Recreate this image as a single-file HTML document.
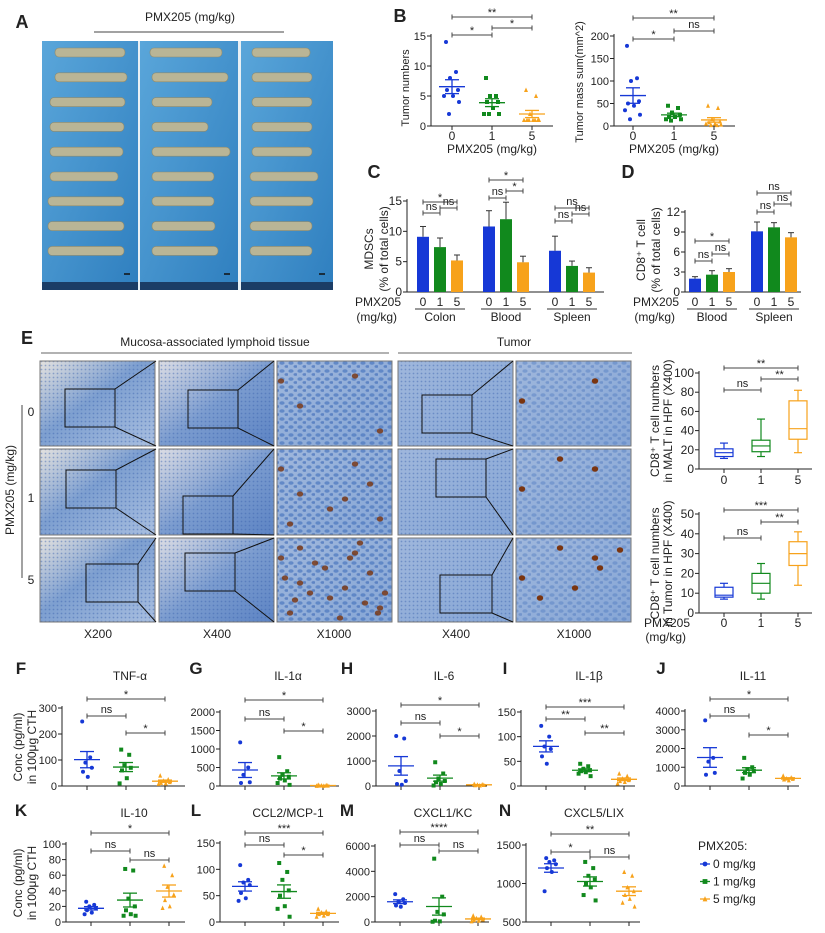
<!DOCTYPE html>
<html><head><meta charset="utf-8">
<style>
html,body{margin:0;padding:0;background:#fff;}
svg{display:block;font-family:"Liberation Sans",sans-serif;}
text{fill:#222;}
</style></head>
<body>
<svg id="fig" width="825" height="933" viewBox="0 0 825 933" xmlns="http://www.w3.org/2000/svg">
<defs>
<linearGradient id="bluebg" x1="0" y1="0" x2="1" y2="1"><stop offset="0" stop-color="#5aa6da"/><stop offset="1" stop-color="#2f7fbf"/></linearGradient>
<linearGradient id="ihc1" x1="0" y1="0" x2="1" y2="1"><stop offset="0" stop-color="#e4e2df"/><stop offset="0.45" stop-color="#7d9fd0"/><stop offset="1" stop-color="#a9bfe0"/></linearGradient>
<linearGradient id="ihc2" x1="0" y1="0" x2="1" y2="1"><stop offset="0" stop-color="#dcdde4"/><stop offset="0.5" stop-color="#7b9ccf"/><stop offset="1" stop-color="#5d84c4"/></linearGradient>
<linearGradient id="ihc3" x1="0" y1="0" x2="1" y2="1"><stop offset="0" stop-color="#9fb7dc"/><stop offset="1" stop-color="#86a6d6"/></linearGradient>
<pattern id="cells" width="9" height="8" patternUnits="userSpaceOnUse"><ellipse cx="3" cy="3" rx="2.6" ry="1.8" fill="#4c78c0" opacity="0.7"/><ellipse cx="7.5" cy="6.5" rx="2" ry="1.4" fill="#3a68b5" opacity="0.6"/></pattern>
<pattern id="cellsfine" width="4" height="4" patternUnits="userSpaceOnUse"><circle cx="1.5" cy="1.5" r="0.9" fill="#3a62ad" opacity="0.45"/></pattern>
</defs>
<g id="root"></g>
</svg>
<script>
// ---------- DATA ----------
var groupsLabels = ['0','1','5'];
var bNum0=[14,9,8,6,6,5,5,4,2], bNum1=[8,5,5,4,4,3,2,2,2], bNum5=[6,5,2,1,1,1,1,1,1,1];
var bMass0=[178,106,100,55,50,45,35,25,15], bMass1=[45,40,30,25,20,20,15,15,12], bMass5=[45,40,15,10,8,5,5,3,2,2];
var cMeans=[[9.1,7.4,5.2],[10.8,12.0,4.9],[6.8,4.3,3.2]];
var cErrs=[[1.7,1.5,0.9],[2.6,2.8,1.0],[2.4,0.8,0.8]];
var cGroups=['Colon','Blood','Spleen'];
var dMeans=[[2.0,2.6,3.0],[9.1,9.7,8.2]];
var dErrs=[[0.3,0.6,0.5],[1.4,0.7,0.7]];
var dGroups=['Blood','Spleen'];
var boxMalt=[[11,13,17,21,27],[13,18,24,30,52],[17,31,42,71,82]];
var boxTumor=[[7,8,9,13,15],[7,10,15,20,25],[14,24,30,36,41]];
var tnf0=[248,110,90,70,55,35], tnf1=[140,120,80,70,60,30,10], tnf5=[40,25,20,15,12,10,8];
var il1a0=[1180,500,300,100,80], il1a1=[780,400,300,250,200,150,80,30], il1a5=[30,20,15,10,10,5,5];
var il60=[2000,1900,600,200,80,50], il61=[950,500,300,200,150,80,20], il65=[80,60,50,40,30,20];
var il1b0=[122,100,80,75,60,45], il1b1=[45,40,35,32,30,28,25,20], il1b5=[25,20,15,12,10,8,5];
var il110=[3500,1500,1300,700,600], il111=[1500,1000,900,800,700,600,400], il115=[550,450,400,380,350,300];
var il100=[26,22,20,18,15,12,10], il101=[68,66,30,20,15,10,8,8], il105=[72,60,45,35,28,20,18];
var ccl20=[108,80,75,70,55,45,40], ccl21=[112,95,80,60,50,30,25,10], ccl25=[25,20,18,15,15,12,10];
var cxcl10=[2200,1800,1600,1500,1300,1200], cxcl11=[5000,2000,800,600,100,50,20], cxcl15=[500,400,300,200,150,100,50];
var cxcl50=[1330,1300,1280,1250,1200,1150,900], cxcl51=[1280,1200,1100,1050,1000,950,850,780], cxcl55=[1150,1100,950,900,850,800,750,700];

var COL=['#1638d6','#11891d','#f7a21b'];
var NS='http://www.w3.org/2000/svg';
var root=document.getElementById('root');
function mk(tag,attrs,parent,txt){var e=document.createElementNS(NS,tag);for(var k in attrs)e.setAttribute(k,attrs[k]);if(txt!==undefined)e.textContent=txt;(parent||root).appendChild(e);return e;}
function grp(name,parent){var g=mk('g',{},parent);return g;}
function txt(p,x,y,s,size,anchor,extra){var t=mk('text',{x:x,y:y,'font-size':size||11,'text-anchor':anchor||'middle'},p,s);if(extra)for(var k in extra)t.setAttribute(k,extra[k]);return t;}
function line(p,x1,y1,x2,y2,c,w){return mk('line',{x1:x1,y1:y1,x2:x2,y2:y2,stroke:c||'#222','stroke-width':w||1},p);}
function mean(a){var s=0;a.forEach(function(v){s+=v});return s/a.length;}
function sem(a){var m=mean(a),s=0;a.forEach(function(v){s+=(v-m)*(v-m)});return Math.sqrt(s/(a.length-1))/Math.sqrt(a.length);}
function marker(p,i,x,y,r){
  if(i===0) return mk('circle',{cx:x,cy:y,r:r,fill:COL[0]},p);
  if(i===1) return mk('rect',{x:x-r,y:y-r,width:2*r,height:2*r,fill:COL[1]},p);
  return mk('polygon',{points:(x)+','+(y-r-0.5)+' '+(x-r)+','+(y+r)+' '+(x+r)+','+(y+r),fill:COL[2]},p);
}
function bracket(p,x1,x2,y,label){
  line(p,x1,y,x2,y,'#444',1);line(p,x1,y-2.5,x1,y+2.5,'#444',1);line(p,x2,y-2.5,x2,y+2.5,'#444',1);
  var star=label.indexOf('*')>=0;
  txt(p,(x1+x2)/2,star?y-1:y-3,label,11);
}
var JIT=[-6,4,-2,6,-5,1,-8,7,-3,3];
function scatter(o){
  var g=grp(o.name);
  var sy=function(v){return o.y0-(v-o.min)/(o.max-o.min)*(o.y0-o.y1);};
  line(g,o.ax,o.y1-2,o.ax,o.y0,'#222',1);
  line(g,o.ax,o.y0,o.ax2,o.y0,'#222',1);
  o.ticks.forEach(function(t){var y=sy(t);line(g,o.ax-4,y,o.ax,y);var tl=txt(g,o.ax-5,y+4,String(t),o.fs||11,'end');});
  var cx=o.cats;
  o.data.forEach(function(arr,i){
    var sg=grp('series-'+o.labels[i],g);
    if(o.xticks) line(sg,cx[i],o.y0,cx[i],o.y0+4);
    arr.forEach(function(v,j){var m=marker(sg,i,cx[i]+JIT[j%10]*(o.jit||1),sy(v),o.r||2.2);});
    var m=mean(arr),s=sem(arr),c=COL[i];
    line(sg,cx[i]-13,sy(m),cx[i]+13,sy(m),c,1.3);
    line(sg,cx[i],sy(m+s),cx[i],sy(m-s),c,1.3);
    line(sg,cx[i]-7,sy(m+s),cx[i]+7,sy(m+s),c,1.3);
    line(sg,cx[i]-7,sy(m-s),cx[i]+7,sy(m-s),c,1.3);
  });
  (o.br||[]).forEach(function(b){bracket(g,cx[b[0]],cx[b[1]],b[3],b[2]);});
  if(o.title){var t=txt(g,o.tx,o.ty,o.title,12);}
  return g;
}

// ---------- PANEL A ----------
(function(){
  var g=grp('panel-a-photo');
  txt(g,22,28,'A',18,'middle',{'font-weight':'bold'});
  txt(g,190,21,'PMX205 (mg/kg)',12);
  line(g,94,32,284,32,'#444',1);
  txt(g,92,56,'0',12);txt(g,189,56,'1',12);txt(g,287,56,'5',12);
  var cols=[[42,138],[140,238],[241,333]];
  var lens=[[ [55,125],[55,127],[50,125],[50,124],[50,123],[50,118],[48,124],[48,124],[48,124] ],
            [[150,222],[152,228],[152,212],[152,208],[152,230],[152,214],[152,214],[152,215],[152,218]],
            [[252,310],[252,312],[252,312],[252,312],[252,312],[250,318],[250,313],[250,312],[250,312]]];
  cols.forEach(function(c,ci){
    mk('rect',{x:c[0],y:41,width:c[1]-c[0],height:249,fill:'url(#bluebg)'},g);
    mk('rect',{x:c[0],y:282,width:c[1]-c[0],height:8,fill:'#1b3d66'},g);
    for(var r=0;r<9;r++){
      var y=52+r*24.8, L=lens[ci][r];
      mk('rect',{x:L[0],y:y-4,width:L[1]-L[0],height:9,rx:4,fill:'#b9b596',stroke:'#8d8a6d','stroke-width':0.6},g);
    }
    line(g,c[1]-14,274,c[1]-8,274,'#111',1.5);
  });
  mk('rect',{x:138,y:41,width:2,height:249,fill:'#e8f0f5'},g);
  mk('rect',{x:238,y:41,width:3,height:249,fill:'#e8f0f5'},g);
})();

// ---------- PANEL B ----------
txt(root,400,22,'B',18,'middle',{'font-weight':'bold'});
scatter({name:'panel-b-tumor-numbers',ax:431,ax2:553,y0:126,y1:36,min:0,max:15,ticks:[0,5,10,15],cats:[452,492,532],xticks:true,labels:['0','1','5'],
  data:[bNum0,bNum1,bNum5],br:[[0,2,'**',17],[0,1,'*',35],[1,2,'*',28]],r:2});
scatter({name:'panel-b-tumor-mass',ax:614,ax2:735,y0:126,y1:36,min:0,max:200,ticks:[0,50,100,150,200],cats:[633,674,714],xticks:true,labels:['0','1','5'],
  data:[bMass0,bMass1,bMass5],br:[[0,2,'**',18],[0,1,'*',39],[1,2,'ns',31]],r:2});
(function(){var g=grp('panel-b-axis-labels');
  [[452,'0'],[492,'1'],[532,'5'],[633,'0'],[674,'1'],[714,'5']].forEach(function(a){txt(g,a[0],140,a[1],12);});
  txt(g,492,153,'PMX205 (mg/kg)',12);txt(g,674,153,'PMX205 (mg/kg)',12);
  txt(g,0,0,'Tumor numbers',11,'middle',{transform:'translate(409,88) rotate(-90)'});
  txt(g,0,0,'Tumor mass sum(mm^2)',11,'middle',{transform:'translate(583,82) rotate(-90)'});
})();

// ---------- PANEL C & D (bars) ----------
function barPanel(o){
  var g=grp(o.name);
  var sy=function(v){return o.y0-v/o.max*(o.y0-o.y1);};
  line(g,o.ax,o.y1-2,o.ax,o.y0);line(g,o.ax,o.y0,o.ax2,o.y0);
  o.ticks.forEach(function(t){var y=sy(t);line(g,o.ax-4,y,o.ax,y);txt(g,o.ax-5,y+4,String(t),12,'end');});
  o.means.forEach(function(ms,gi){
    var gx=o.gx[gi];
    ms.forEach(function(m,i){
      var x=gx+i*17;
      var b=mk('rect',{x:x-6,y:sy(m),width:12,height:o.y0-sy(m),fill:COL[i]},g);
      
      
      var e=o.errs[gi][i];
      line(g,x,sy(m),x,sy(m+e),'#333',1);line(g,x-3,sy(m+e),x+3,sy(m+e),'#333',1);
      txt(g,x,306,groupsLabels[i],12);
    });
    line(g,gx-8,309,gx+42,309,'#333',1);
    txt(g,gx+17,321,o.groups[gi],12);
    (o.br[gi]||[]).forEach(function(b){bracket(g,gx+b[0]*17,gx+b[1]*17,b[3],b[2]);});
  });
  txt(g,o.ax-6,306,'PMX205',12,'end');txt(g,o.ax-10,321,'(mg/kg)',12,'end');
}
txt(root,374,178,'C',18,'middle',{'font-weight':'bold'});
txt(root,628,178,'D',18,'middle',{'font-weight':'bold'});
barPanel({name:'panel-c-mdscs',ax:407,ax2:604,y0:292,y1:201,max:15,ticks:[0,5,10,15],gx:[423,489,555],groups:cGroups,means:cMeans,errs:cErrs,
  br:[[[0,2,'*',202],[0,1,'ns',213],[1,2,'ns',208]],[[0,2,'*',180],[0,1,'ns',198],[1,2,'*',191]],[[0,2,'ns',208],[0,1,'ns',221],[1,2,'ns',214]]]});
barPanel({name:'panel-d-cd8',ax:685,ax2:801,y0:292,y1:212,max:12,ticks:[0,3,6,9,12],gx:[695,757],groups:dGroups,means:dMeans,errs:dErrs,
  br:[[[0,2,'*',241],[0,1,'ns',261],[1,2,'ns',254]],[[0,2,'ns',193],[0,1,'ns',212],[1,2,'ns',204]]]});
(function(){var g=grp('panel-cd-axis-titles');
  txt(g,0,0,'MDSCs',12,'middle',{transform:'translate(373,249) rotate(-90)'});
  txt(g,0,0,'(% of total cells)',12,'middle',{transform:'translate(388,249) rotate(-90)'});
  txt(g,0,0,'CD8\u207A T cell',12,'middle',{transform:'translate(645,250) rotate(-90)'});
  txt(g,0,0,'(% of total cells)',12,'middle',{transform:'translate(660,250) rotate(-90)'});
})();

// ---------- PANEL E (IHC) ----------
(function(){
  var g=grp('panel-e-ihc');
  txt(g,27,344,'E',18,'middle',{'font-weight':'bold'});
  txt(g,215,346,'Mucosa-associated lymphoid tissue',12);
  txt(g,514,346,'Tumor',12);
  line(g,41,353,389,353,'#666',1);line(g,398,353,632,353,'#666',1);
  var cols=[[40,155],[159,274],[277,392],[398,513],[516,631]];
  var rows=[[361,446],[449,535],[538,622]];
  var fills=['url(#ihc1)','url(#ihc2)','url(#ihc3)','url(#ihc3)','url(#ihc3)'];
  rows.forEach(function(r,ri){
    cols.forEach(function(c,ci){
      mk('rect',{x:c[0],y:r[0],width:c[1]-c[0],height:r[1]-r[0],fill:fills[ci]},g);
      mk('rect',{x:c[0],y:r[0],width:c[1]-c[0],height:r[1]-r[0],fill:ci==2||ci==4?'url(#cells)':'url(#cellsfine)',opacity:ci==4?0.6:1},g);
      mk('rect',{x:c[0],y:r[0],width:c[1]-c[0],height:r[1]-r[0],fill:'none',stroke:'#777','stroke-width':1},g);
    });
    var b0={x:[65,66,86][ri],y:r[0]+[28,21,26][ri],w:[50,50,52][ri],h:38};
    var b1={x:[188,183,185][ri],y:r[0]+[29,47,15][ri],w:50,h:38};
    var b3={x:[422,436,440][ri],y:r[0]+[34,10,37][ri],w:[50,50,52][ri],h:38};
    [[b0,cols[1]],[b1,cols[2]],[b3,cols[4]]].forEach(function(p){
      var b=p[0],c=p[1];
      mk('rect',{x:b.x,y:b.y,width:b.w,height:b.h,fill:'none',stroke:'#111','stroke-width':1},g);
      line(g,b.x+b.w,b.y,c[0]-3,r[0],'#111',1);
      line(g,b.x+b.w,b.y+b.h,c[0]-3,r[1],'#111',1);
    });
    var n=[4,8,20][ri];
    for(var k=0;k<n;k++){
      var xx=[281,380,300,355,330,290,370,345,315,385,300,340,365,285,325,350,378,310,295,360][k];
      var yy=r[0]+[20,70,45,15,60,75,35,50,25,55,10,80,65,40,30,20,75,55,62,5][k];
      mk('ellipse',{cx:xx,cy:yy,rx:3.2,ry:2.6,fill:'#7a3a18',opacity:0.85},g);
    }
    var n2=[2,3,7][ri];
    for(var k2=0;k2<n2;k2++){
      var x2=[595,522,560,600,540,620,575][k2], y2=r[0]+[20,40,10,30,60,12,50][k2];
      mk('ellipse',{cx:x2,cy:y2,rx:3.2,ry:2.8,fill:'#7a3510'},g);
    }
  });
  txt(g,0,0,'PMX205 (mg/kg)',12,'middle',{transform:'translate(14,490) rotate(-90)'});
  line(g,22,405,22,578,'#444',1);
  txt(g,31,416,'0',12);txt(g,31,502,'1',12);txt(g,31,584,'5',12);
  [[98,'X200'],[217,'X400'],[334,'X1000'],[456,'X400'],[574,'X1000']].forEach(function(a){txt(g,a[0],638,a[1],12);});
})();

// ---------- PANEL E box plots ----------
function boxPanel(o){
  var g=grp(o.name);
  var sy=function(v){return o.y0-v/o.max*(o.y0-o.y1);};
  line(g,o.ax,o.y1-2,o.ax,o.y0);line(g,o.ax,o.y0,o.ax2,o.y0);
  o.ticks.forEach(function(t){var y=sy(t);line(g,o.ax-4,y,o.ax,y);txt(g,o.ax-5,y+4,String(t),12,'end');});
  o.data.forEach(function(d,i){
    var x=o.cats[i],c=COL[i],w=9;
    var bg=grp('box-'+groupsLabels[i],g);
    line(bg,x,o.y0,x,o.y0+4);
    line(bg,x,sy(d[0]),x,sy(d[1]),c,1.2);line(bg,x,sy(d[3]),x,sy(d[4]),c,1.2);
    line(bg,x-4,sy(d[0]),x+4,sy(d[0]),c,1.2);line(bg,x-4,sy(d[4]),x+4,sy(d[4]),c,1.2);
    mk('rect',{x:x-w,y:sy(d[3]),width:2*w,height:sy(d[1])-sy(d[3]),fill:'none',stroke:c,'stroke-width':1.2},bg);
    line(bg,x-w,sy(d[2]),x+w,sy(d[2]),c,1.2);
  });
  o.br.forEach(function(b){bracket(g,o.cats[b[0]],o.cats[b[1]],b[3],b[2]);});
  txt(g,0,0,o.t1,12,'middle',{transform:'translate('+(o.ax-40)+','+((o.y0+o.y1)/2)+') rotate(-90)'});
  txt(g,0,0,o.t2,12,'middle',{transform:'translate('+(o.ax-27)+','+((o.y0+o.y1)/2)+') rotate(-90)'});
}
boxPanel({name:'panel-e-box-malt',ax:699,ax2:812,y0:469,y1:373,max:100,ticks:[0,20,40,60,80,100],cats:[724,761,798],data:boxMalt,
  br:[[0,2,'**',368],[0,1,'ns',390],[1,2,'**',379]],t1:'CD8\u207A T cell numbers',t2:'in MALT in HPF (X400)'});
boxPanel({name:'panel-e-box-tumor',ax:699,ax2:812,y0:613,y1:514,max:50,ticks:[0,10,20,30,40,50],cats:[724,761,798],data:boxTumor,
  br:[[0,2,'***',510],[0,1,'ns',538],[1,2,'**',522]],t1:'CD8\u207A T cell numbers',t2:'in Tumor in HPF (X400)'});
(function(){var g=grp('panel-e-box-labels');
  [[724,'0'],[761,'1'],[798,'5']].forEach(function(a){txt(g,a[0],484,a[1],12);txt(g,a[0],627,a[1],12);});
  txt(g,690,627,'PMX205',12,'end');txt(g,686,641,'(mg/kg)',12,'end');
})();

// ---------- PANELS F-N ----------
function cyto(name,letter,lx,title,ax,ax2,y0,y1,max,ticks,data,br,min){
  var t=y1;
  var row1=(y0===786);
  txt(root,lx,row1?674:816,letter,17,'middle',{'font-weight':'bold'});
  scatter({name:name,ax:ax,ax2:ax2,y0:y0,y1:y1,min:min||0,max:max,ticks:ticks,cats:[ax+25,ax+64,ax+103],xticks:true,labels:['0','1','5'],
    data:data,br:[[0,2,br[0],t+br[3]],[0,1,br[1],t+br[4]],[1,2,br[2],t+br[5]]],title:title,tx:ax+68,ty:row1?680:817,fs:11,jit:0.8,r:2});
}
cyto('panel-f-tnf','F',21,'TNF-\u03b1',62,185,786,708,300,[0,100,200,300],[tnf0,tnf1,tnf5],['*','ns','*',-9,8,25]);
cyto('panel-g-il1a','G',196,'IL-1\u03b1',220,339,786,712,2000,[0,500,1000,1500,2000],[il1a0,il1a1,il1a5],['*','ns','*',-12,7,19]);
cyto('panel-h-il6','H',347,'IL-6',376,487,786,711,3000,[0,1000,2000,3000],[il60,il61,il65],['*','ns','*',-6,12,25]);
cyto('panel-i-il1b','I',505,'IL-1\u03b2',521,635,786,712,150,[0,50,100,150],[il1b0,il1b1,il1b5],['***','**','**',-5,7,21]);
cyto('panel-j-il11','J',661,'IL-11',685,799,786,711,4000,[0,1000,2000,3000,4000],[il110,il111,il115],['*','ns','*',-12,5,24]);
cyto('panel-k-il10','K',21,'IL-10',66,185,922,844,100,[0,20,40,60,80,100],[il100,il101,il105],['*','ns','ns',-11,7,16]);
cyto('panel-l-ccl2','L',196,'CCL2/MCP-1',220,339,922,843,150,[0,50,100,150],[ccl20,ccl21,ccl25],['***','ns','*',-10,2,12]);
cyto('panel-m-cxcl1','M',347,'CXCL1/KC',375,489,922,846,6000,[0,2000,4000,6000],[cxcl10,cxcl11,cxcl15],['****','ns','ns',-14,-1,5]);
cyto('panel-n-cxcl5','N',505,'CXCL5/LIX',526,640,922,845,1500,[500,1000,1500],[cxcl50,cxcl51,cxcl55],['**','*','ns',-11,7,12],500);
(function(){var g=grp('cytokine-y-titles');
  [[747],[883]].forEach(function(a){
    txt(g,0,0,'Conc (pg/ml)',12,'middle',{transform:'translate(22,'+a[0]+') rotate(-90)'});
    txt(g,0,0,'in 100\u03bcg CTH',12,'middle',{transform:'translate(36,'+a[0]+') rotate(-90)'});
  });
})();
// legend
(function(){var g=grp('legend');
  txt(g,698,850,'PMX205:',12,'start');
  var labs=['0 mg/kg','1 mg/kg','5 mg/kg'];
  labs.forEach(function(l,i){
    var y=864+i*17.5;
    var e=grp('legend-entry-'+i,g);
    line(e,700,y,710,y,COL[i],1.3);marker(e,i,705,y,2.4);
    txt(e,713,y+4,l,12,'start');
  });
})();
</script>
</body></html>
